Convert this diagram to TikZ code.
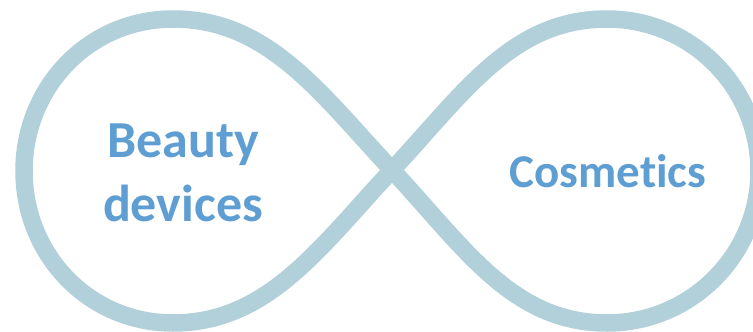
\documentclass[tikz,border=0pt]{standalone}
\usepackage{fontspec}
\setmainfont{Carlito}[Ligatures=NoCommon]
\definecolor{loopc}{RGB}{177,208,217}
\definecolor{textc}{RGB}{94,158,210}
\begin{document}
\begin{tikzpicture}[x=1pt,y=-1pt,
  loopline/.style={draw=loopc,line width=17.5pt,line join=round},
  lbl/.style={text=textc,font=\bfseries,inner sep=0pt,anchor=base}]
\useasboundingbox (0,0) rectangle (753,332);
\clip (0,0) rectangle (753,332);
\coordinate (C) at (392,170);
\coordinate (TR) at (607,19);
\coordinate (R) at (759,171);
\coordinate (BR) at (607,323);
\coordinate (TL) at (173,19);
\coordinate (L) at (24,171);
\coordinate (BL) at (173,323);
\path[loopline] (C) .. controls +(72,-77) and +(-95,0) .. (TR)
  .. controls +(84,0) and +(0,-84) .. (R)
  .. controls +(0,84) and +(84,0) .. (BR)
  .. controls +(-95,0) and +(72,77) .. (C)
  .. controls +(-72,-77) and +(95,0) .. (TL)
  .. controls +(-84,0) and +(0,-84) .. (L)
  .. controls +(0,84) and +(-84,0) .. (BL)
  .. controls +(95,0) and +(-72,77) .. (C) -- cycle;
\node[lbl,font=\bfseries\fontsize{52}{62}\selectfont] (b1) at (183,157) {Beauty};
\node[lbl,font=\bfseries\fontsize{52}{62}\selectfont] (b2) at (183,221) {devices};
\node[lbl,font=\bfseries\fontsize{47}{56}\selectfont] (cs) at (608,187) {Cosmetics};
\end{tikzpicture}
\end{document}
